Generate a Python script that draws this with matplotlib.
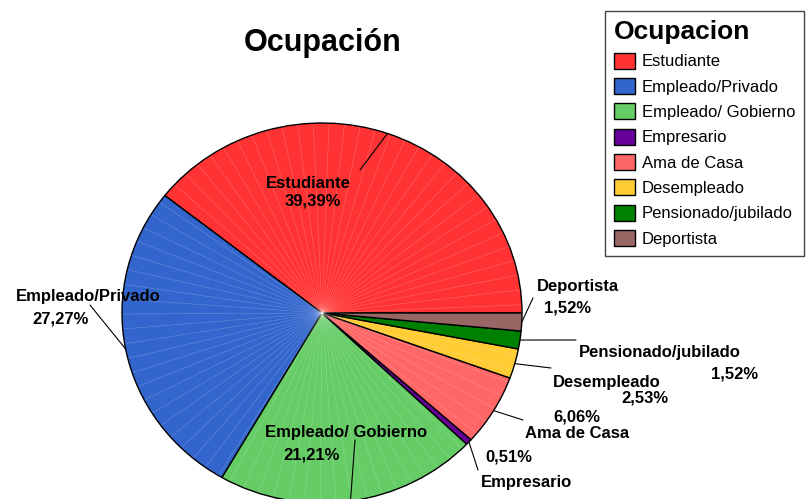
import numpy as np
import matplotlib
matplotlib.use('Agg')
import matplotlib.pyplot as plt

plt.rcParams['font.family'] = ['Liberation Sans', 'DejaVu Sans']

# datos de la encuesta (conteos, total 198)
categorias = ['Estudiante', 'Empleado/Privado', 'Empleado/ Gobierno', 'Empresario',
              'Ama de Casa', 'Desempleado', 'Pensionado/jubilado', 'Deportista']
conteos = [78, 54, 42, 1, 12, 5, 3, 3]
porcentajes = ['39,39%', '27,27%', '21,21%', '0,51%', '6,06%', '2,53%', '1,52%', '1,52%']
colores = ['#FF3333', '#3366CC', '#66CC66', '#660099',
           '#FF6666', '#FFCC33', '#008000', '#996666']

# posiciones de las etiquetas en pixeles (nombre, porcentaje, fin de la linea guia)
pos_nombre = [(308, 184), (88, 297), (346, 432), (527, 482),
              (577, 433), (607, 382), (660, 353), (578, 286)]
pos_pct = [(313, 201), (61, 319), (312, 455), (509, 457),
           (577, 417), (645, 398), (735, 374), (568, 308)]
fin_guia = [(360, 170), (90, 305), (355, 440), (478, 470),
            (523, 420), (551, 368), (576, 340), (533, 298)]

W, H = 809, 499
fig = plt.figure(figsize=(W / 100, H / 100), dpi=100)


def px(x, y):
    return (x / W, 1 - y / H)


# ejes de la torta: centro (322, 313), radios 200 x 190 px
ax = fig.add_axes([122 / W, (H - 313 - 190) / H, 400 / W, 380 / H])
wedges, _ = ax.pie(conteos, colors=colores, startangle=0, counterclock=True,
                   wedgeprops=dict(edgecolor='black', linewidth=1.0))
ax.set_aspect('auto')
ax.set_xlim(-1, 1)
ax.set_ylim(-1, 1)
ax.axis('off')

# lineas radiales claras dentro de cada porcion
for w in wedges:
    if w.theta2 - w.theta1 < 8:
        continue
    for ang in np.arange(w.theta1 + 2.5, w.theta2 - 1, 4.5):
        r = np.deg2rad(ang)
        ax.plot([0, 0.995 * np.cos(r)], [0, 0.995 * np.sin(r)], color='white',
                lw=0.4, alpha=0.25, zorder=w.get_zorder() + 0.1)

# etiquetas y lineas guia
for i, w in enumerate(wedges):
    mid = np.deg2rad((w.theta1 + w.theta2) / 2)
    borde = (np.cos(mid), np.sin(mid))
    ax.annotate('', xy=borde, xycoords='data', xytext=px(*fin_guia[i]),
                textcoords='figure fraction',
                arrowprops=dict(arrowstyle='-', lw=0.8, color='black',
                                shrinkA=0, shrinkB=0))
    fig.text(*px(*pos_nombre[i]), categorias[i], ha='center', va='center',
             fontsize=12, fontweight='bold')
    fig.text(*px(*pos_pct[i]), porcentajes[i], ha='center', va='center',
             fontsize=12, fontweight='bold')

fig.text(*px(323, 43), 'Ocupación', ha='center', va='center',
         fontsize=22, fontweight='bold')

leg = fig.legend(wedges, categorias, loc='upper left',
                 bbox_to_anchor=px(605, 11), title='Ocupacion',
                 fontsize=12, title_fontsize=19, alignment='left',
                 fancybox=False, edgecolor='#444444', framealpha=1,
                 handlelength=1.25, handleheight=1.1, handletextpad=0.4,
                 labelspacing=0.52, borderpad=0.55, borderaxespad=0)
leg.get_title().set_fontweight('bold')
leg.get_frame().set_linewidth(1.0)

fig.savefig('out.png', dpi=100)
